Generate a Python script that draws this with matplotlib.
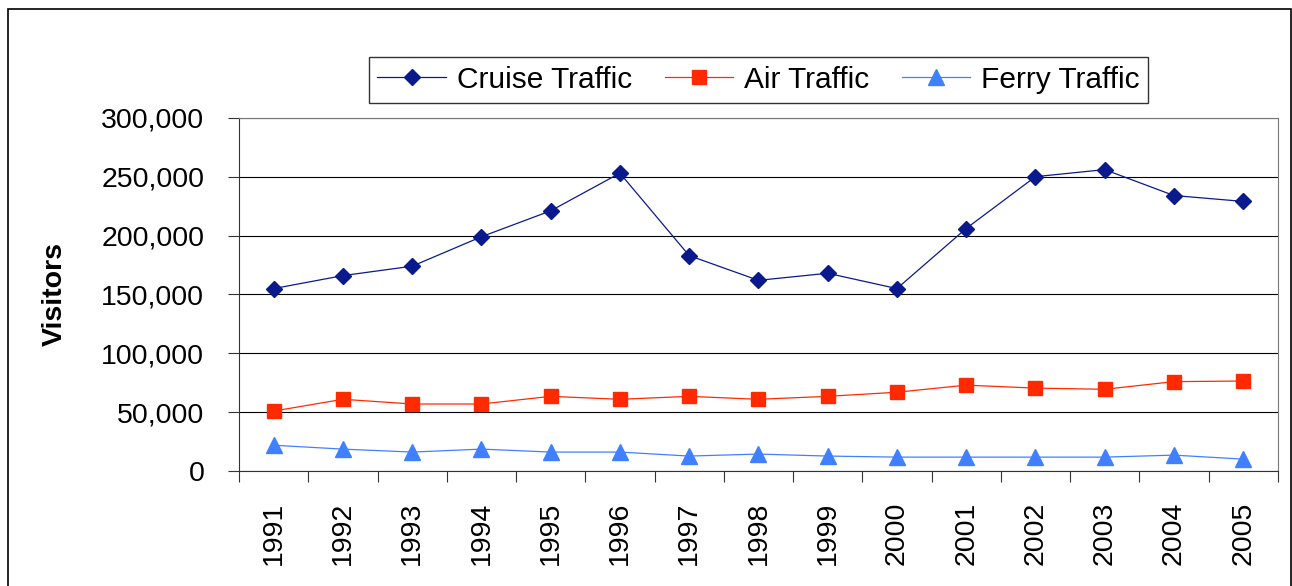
import matplotlib.pyplot as plt
from matplotlib.ticker import FuncFormatter, FixedLocator
from matplotlib.patches import Rectangle

plt.rcParams['font.family'] = ['Liberation Sans', 'DejaVu Sans']

years = ['1991', '1992', '1993', '1994', '1995', '1996', '1997', '1998',
         '1999', '2000', '2001', '2002', '2003', '2004', '2005']
cruise = [155000, 166000, 174000, 199000, 221000, 253000, 183000, 162000,
          168000, 155000, 206000, 250000, 256000, 234000, 229000]
air = [51000, 61000, 57000, 57000, 63500, 61000, 63500, 61000,
       63500, 67000, 73000, 70500, 69500, 76000, 76500]
ferry = [22000, 18700, 16200, 18700, 16200, 16200, 12800, 14500,
         12800, 11900, 11900, 11900, 11900, 13600, 10200]

fig = plt.figure(figsize=(12.92, 5.86), dpi=100)
ax = fig.add_axes([0.185, 0.196, 0.804, 0.603])

x = list(range(len(years)))
ax.plot(x, cruise, color='#0a1a8c', lw=0.9, marker='D', markersize=8,
        label='Cruise Traffic')
ax.plot(x, air, color='#ff2a00', lw=0.9, marker='s', markersize=10,
        label='Air Traffic')
ax.plot(x, ferry, color='#4080ff', lw=0.9, marker='^', markersize=12,
        label='Ferry Traffic')

ax.set_xlim(-0.5, len(years) - 0.5)
ax.set_ylim(0, 300000)
ax.set_yticks(range(0, 300001, 50000))
ax.yaxis.set_major_formatter(FuncFormatter(lambda v, p: f'{int(v):,}'))
ax.grid(axis='y', color='black', lw=0.8)
ax.set_axisbelow(True)

# category boundaries as major ticks, labels on minor ticks
ax.xaxis.set_major_locator(FixedLocator([i - 0.5 for i in range(len(years) + 1)]))
ax.xaxis.set_major_formatter(FuncFormatter(lambda v, p: ''))
ax.xaxis.set_minor_locator(FixedLocator(x))
ax.set_xticklabels(years, minor=True, rotation=90)
ax.tick_params(axis='x', which='major', length=8, color='#333333')
ax.tick_params(axis='x', which='minor', length=0, labelsize=20.5, pad=22)
ax.tick_params(axis='y', length=8, labelsize=20.5, color='#333333', pad=17)

for s in ['left', 'bottom']:
    ax.spines[s].set_color('#333333')
for s in ['top', 'right']:
    ax.spines[s].set_color('#777777')

ax.set_ylabel('Visitors', fontsize=20.5, fontweight='bold', labelpad=24)

leg = ax.legend(loc='center', bbox_to_anchor=(0.5, 1.108), ncol=3,
                fontsize=21.5, frameon=True, fancybox=False, handlelength=2.3,
                columnspacing=1.1, handletextpad=0.35, borderpad=0.3)
leg.get_frame().set_edgecolor('black')
leg.get_frame().set_linewidth(1.0)

fig.patches.append(Rectangle((0.006, -0.01), 0.993, 0.995, transform=fig.transFigure,
                             fill=False, edgecolor='black', lw=1.2))

fig.savefig('out.png', dpi=100)
